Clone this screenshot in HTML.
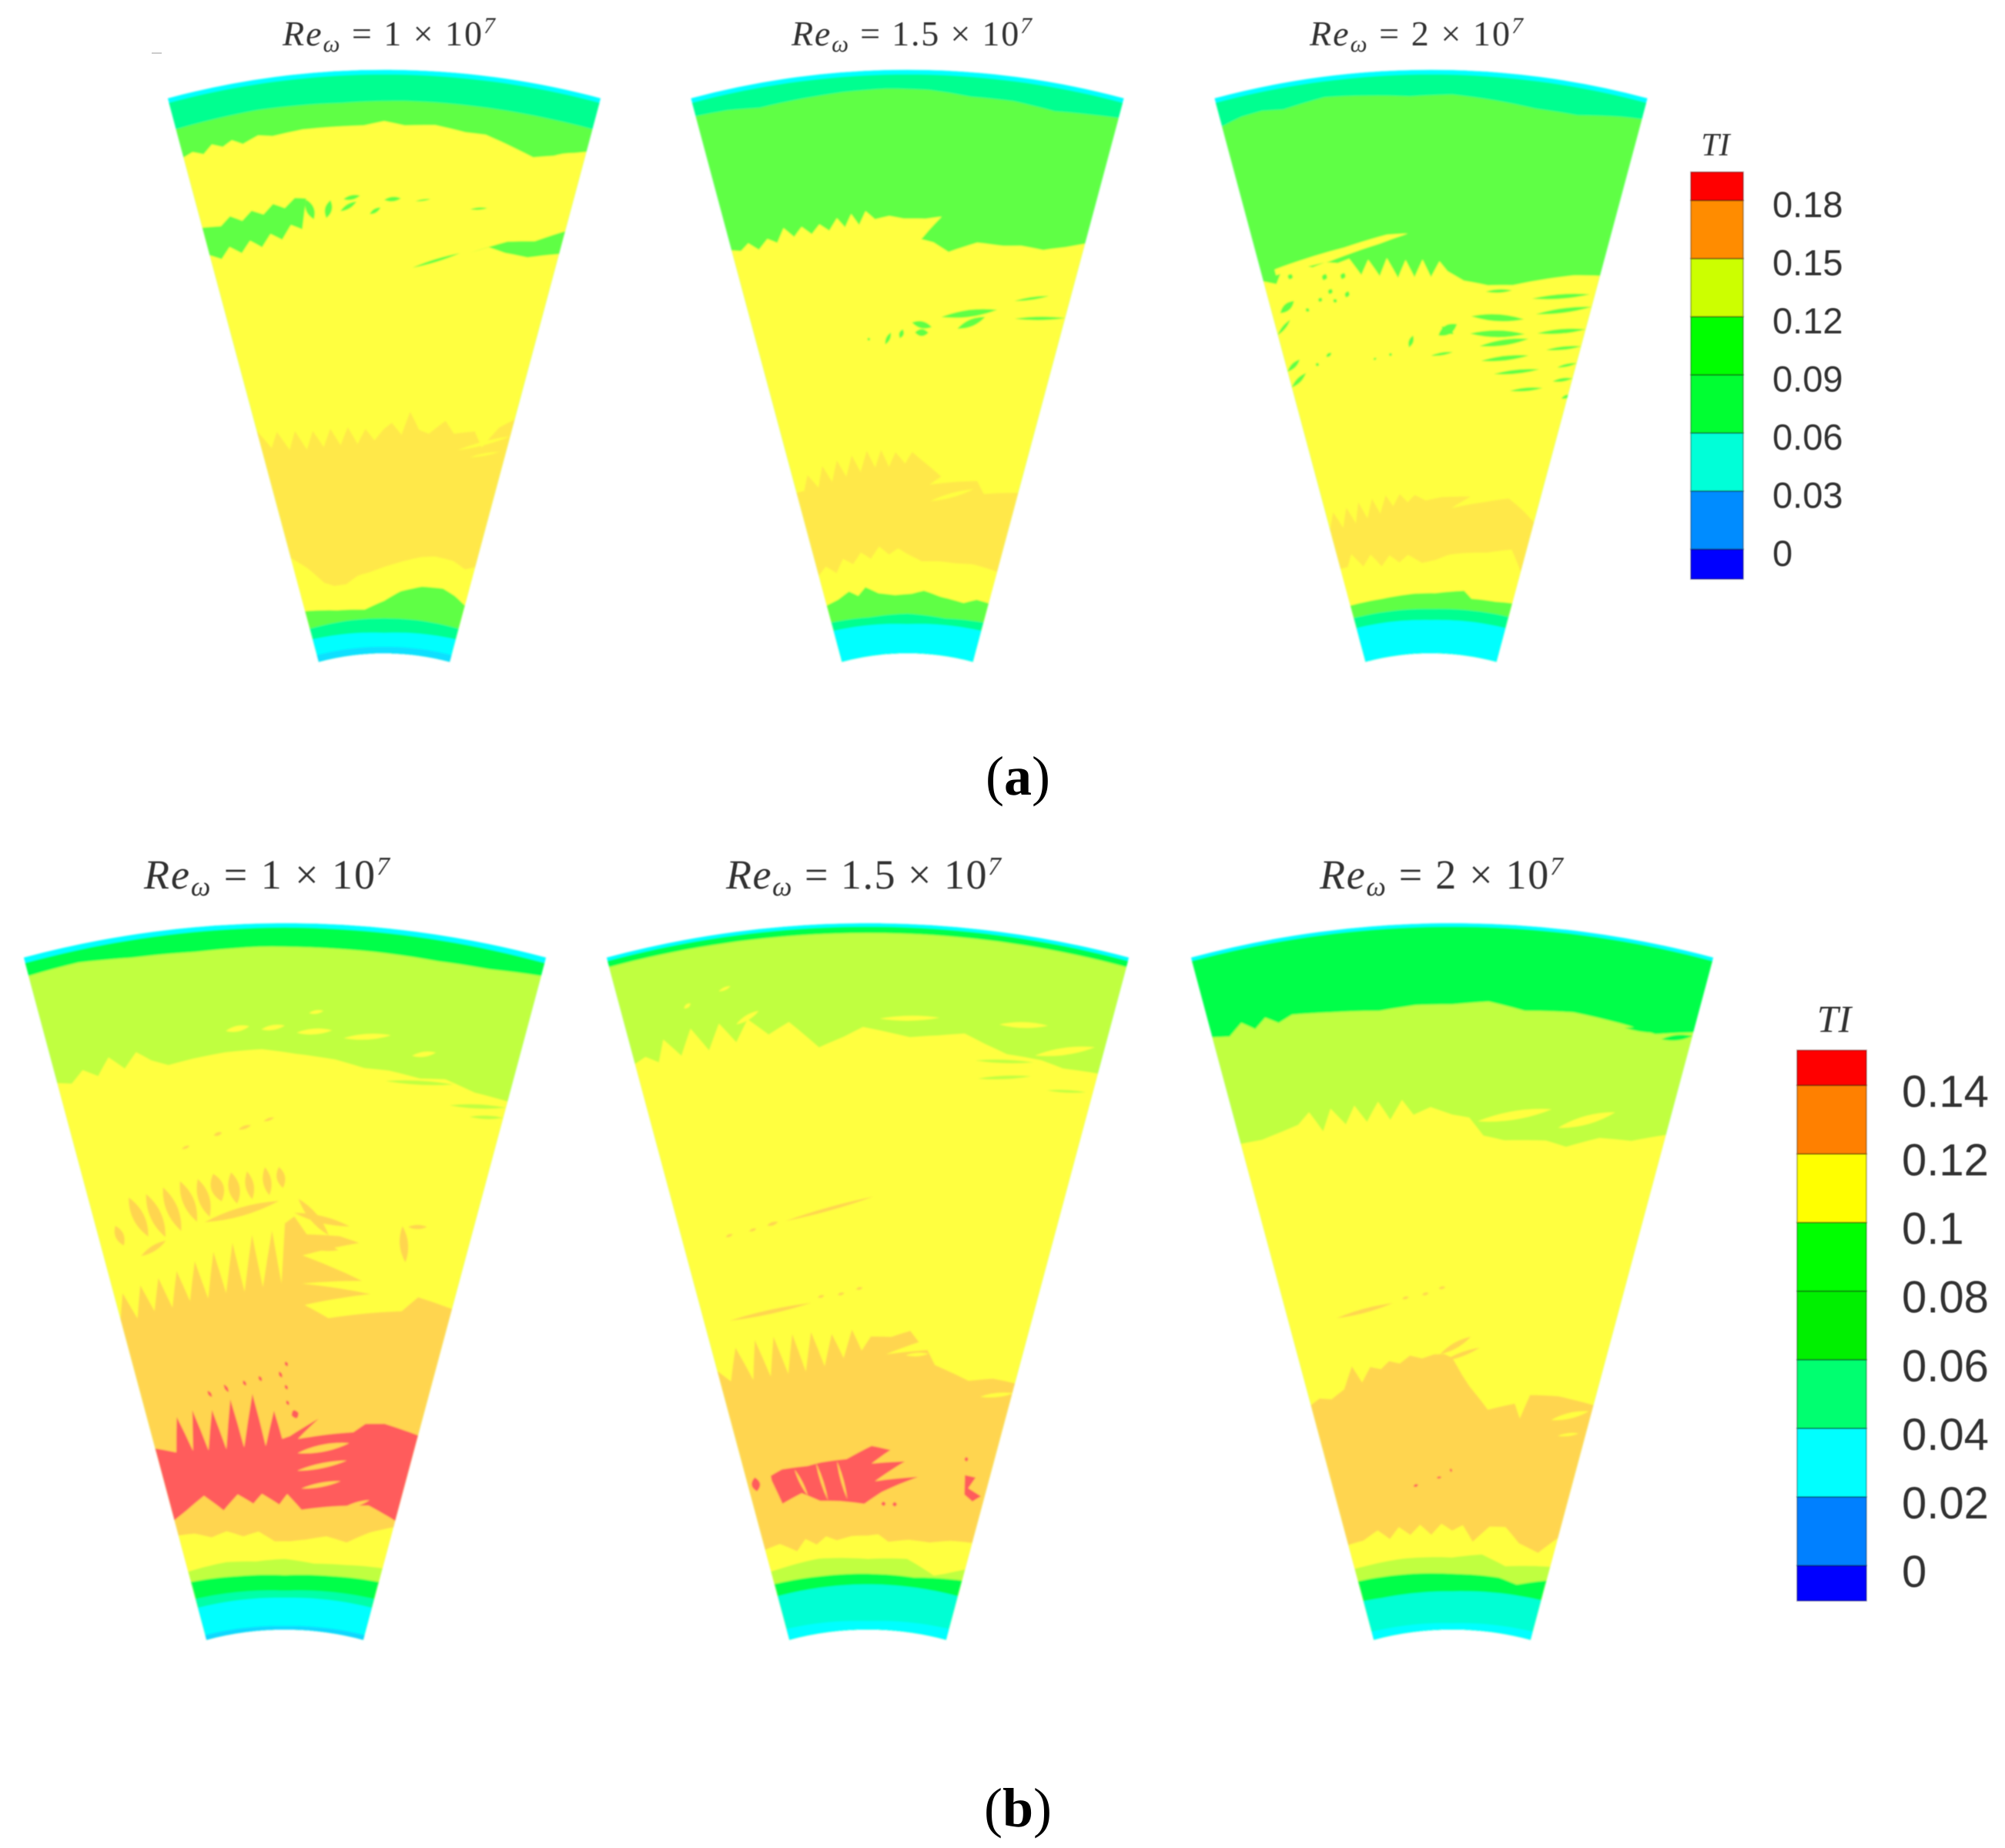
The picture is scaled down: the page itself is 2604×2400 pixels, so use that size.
<!DOCTYPE html>
<html lang="en">
<head>
<meta charset="utf-8">
<title>Turbulence intensity contours</title>
<style>
html,body{margin:0;padding:0;background:#fff}
body{width:2604px;height:2400px;overflow:hidden}
svg{display:block}
.t{font-family:"Liberation Serif",serif;fill:#333}
.l{font-family:"Liberation Sans",sans-serif;fill:#333}
</style>
</head>
<body>
<svg id="chart" xmlns="http://www.w3.org/2000/svg" width="2604" height="2400" viewBox="0 0 2604 2400">
<defs>
<filter id="soft" x="-5%" y="-5%" width="110%" height="110%"><feGaussianBlur stdDeviation="1.1"/></filter>
<filter id="softText" x="-5%" y="-20%" width="110%" height="140%"><feGaussianBlur stdDeviation="0.6"/></filter>
</defs>
<rect x="197" y="68" width="13" height="2" fill="#ccc"/>
<g filter="url(#softText)">
<text class="t" x="367" y="59" font-size="46" textLength="276"><tspan font-style="italic">Re</tspan><tspan font-style="italic" font-size="31" dy="8">ω</tspan><tspan dy="-8"> = 1 × 10</tspan><tspan font-style="italic" font-size="30" dy="-16">7</tspan></text>
<text class="t" x="1028" y="59" font-size="46" textLength="312"><tspan font-style="italic">Re</tspan><tspan font-style="italic" font-size="31" dy="8">ω</tspan><tspan dy="-8"> = 1.5 × 10</tspan><tspan font-style="italic" font-size="30" dy="-16">7</tspan></text>
<text class="t" x="1701" y="59" font-size="46" textLength="277"><tspan font-style="italic">Re</tspan><tspan font-style="italic" font-size="31" dy="8">ω</tspan><tspan dy="-8"> = 2 × 10</tspan><tspan font-style="italic" font-size="30" dy="-16">7</tspan></text>
<text class="t" x="187" y="1154" font-size="54" textLength="319"><tspan font-style="italic">Re</tspan><tspan font-style="italic" font-size="36" dy="9">ω</tspan><tspan dy="-9"> = 1 × 10</tspan><tspan font-style="italic" font-size="34" dy="-18">7</tspan></text>
<text class="t" x="943" y="1154" font-size="54" textLength="357"><tspan font-style="italic">Re</tspan><tspan font-style="italic" font-size="36" dy="9">ω</tspan><tspan dy="-9"> = 1.5 × 10</tspan><tspan font-style="italic" font-size="34" dy="-18">7</tspan></text>
<text class="t" x="1714" y="1154" font-size="54" textLength="316"><tspan font-style="italic">Re</tspan><tspan font-style="italic" font-size="36" dy="9">ω</tspan><tspan dy="-9"> = 2 × 10</tspan><tspan font-style="italic" font-size="34" dy="-18">7</tspan></text>
</g>
<text x="1322" y="1032" text-anchor="middle" font-family="Liberation Serif" font-size="72" fill="#000">(<tspan font-weight="bold">a</tspan>)</text>
<text x="1322" y="2372" text-anchor="middle" font-family="Liberation Serif" font-size="72" fill="#000">(<tspan font-weight="bold">b</tspan>)</text>
<g id="plots"></g>
<g id="legends"></g>
</svg>
<script>
// Contour data: every boundary is a list of (pitch u from -1 to 1, span s from hub 0 to tip 1) pairs.
const a1Ti=[.045,.075,.105,.135,.16,.135,.105,.075,.045,.02];
const a1Bounds=[
[-1,.992,1,.992],
[-1,.945,-.6,.948,-.2,.945,.1,.947,.5,.946,.8,.945,1,.945],
[-1,.895,-.95,.90,-.9,.892,-.85,.905,-.8,.897,-.75,.905,-.7,.895,-.62,.905,-.55,.90,-.4,.905,-.25,.905,-.1,.905,0,.912,.1,.905,.25,.908,.4,.90,.5,.90,.65,.885,.75,.875,.85,.885,1,.905],
[-1,.41,-.92,.375,-.85,.40,-.78,.365,-.71,.395,-.64,.36,-.57,.39,-.5,.36,-.43,.39,-.36,.36,-.29,.39,-.22,.36,-.15,.385,-.08,.365,0,.385,.06,.395,.14,.375,.2,.415,.28,.385,.36,.38,.48,.405,.56,.385,.72,.395,.8,.37,.9,.41,1,.43],
[-1,.184,-.85,.16,-.7,.13,-.59,.122,-.45,.122,-.3,.135,-.15,.14,0,.148,.2,.158,.4,.168,.55,.172,.75,.17,.9,.16,1,.168],
[-1,.09,-.6,.08,-.25,.076,0,.09,.2,.107,.45,.118,.7,.12,.85,.112,1,.10],
[-1,.059,-.5,.06,0,.06,.5,.06,1,.059],
[-1,.04,0,.035,1,.04],
[-1,.012,0,.011,1,.012]
];
const a1Patches=[
[.105,[-1.03,.772,-.9,.765,-.84,.778,-.78,.766,-.72,.78,-.66,.77,-.6,.785,-.54,.775,-.48,.79,-.42,.787,-.46,.735,-.52,.745,-.58,.722,-.64,.735,-.7,.715,-.76,.73,-.82,.712,-.88,.727,-.94,.71,-1.03,.727]],
[.105,[1.03,.77,.85,.735,.7,.725,.5,.696,.6,.71,.7,.705,.83,.705,1.03,.727]]
];
const a1Streaks=[
[.105,-.39,.75,-.42,.785,.014],[.105,-.32,.75,-.29,.78,.012],
[.105,-.22,.78,-.13,.785,.008],[.105,-.24,.76,-.15,.775,.008],
[.105,-.08,.753,-.02,.764,.007],[.105,0,.777,.09,.78,.008],
[.105,.17,.776,.25,.781,.003],[.105,.47,.77,.56,.776,.004],
[.105,.17,.662,.44,.693,.005],
[.135,.85,.885,.98,.9,.005],
[.135,.61,.358,1,.40,.006],[.135,.72,.35,.95,.37,.004]
];

const a2Ti=[.045,.075,.105,.135,.16,.135,.105,.075,.045];
const a2Bounds=[
[-1,.992,1,.992],
[-1,.968,-.85,.965,-.7,.958,-.5,.962,-.3,.966,-.1,.968,.1,.966,.3,.958,.5,.958,.7,.952,.85,.958,1,.965],
[-1,.73,-.95,.725,-.9,.735,-.85,.72,-.79,.735,-.74,.725,-.69,.748,-.64,.73,-.59,.745,-.54,.73,-.49,.745,-.44,.732,-.39,.752,-.35,.735,-.31,.757,-.27,.737,-.23,.76,-.18,.745,-.1,.75,-.02,.745,.1,.745,.19,.75,.12,.725,.08,.71,.15,.705,.24,.69,.32,.70,.4,.71,.55,.71,.65,.715,.78,.715,.9,.728,1,.742],
[-1,.30,-.93,.30,-.87,.325,-.8,.30,-.73,.335,-.67,.305,-.6,.34,-.54,.31,-.47,.345,-.41,.315,-.34,.35,-.28,.32,-.22,.35,-.16,.32,-.1,.345,-.02,.325,.04,.345,.1,.335,.3,.305,.2,.29,.62,.305,.7,.285,1,.30],
[-1,.153,-.9,.165,-.8,.15,-.7,.172,-.6,.16,-.5,.178,-.4,.165,-.3,.185,-.2,.17,-.1,.18,0,.17,.16,.158,.35,.16,.55,.16,.72,.163,1,.16],
[-1,.10,-.85,.105,-.7,.115,-.6,.105,-.5,.118,-.35,.105,-.15,.10,.05,.102,.2,.108,.4,.10,.7,.095,.85,.105,1,.104],
[-1,.07,-.5,.066,0,.068,.5,.064,1,.07],
[-1,.055,0,.05,1,.055]
];
const a2Patches=[];
const a2Streaks=[
[.135,.22,.262,.6,.29,.007],
[.105,.22,.578,.57,.60,.012],[.105,.33,.56,.5,.585,.012],[.105,.03,.567,.16,.56,.012],[.105,.05,.55,.14,.55,.012],
[.105,.67,.62,.87,.64,.005],[.105,.69,.59,1,.61,.006],
[.105,-.15,.53,-.11,.55,.007],[.105,-.05,.54,-.03,.555,.008],[.105,-.27,.54,-.25,.541,.005]
];

const a3Ti=[.045,.075,.105,.135,.16,.135,.105,.075,.045];
const a3Bounds=[
[-1,.992,1,.992],
[-1,.95,-.9,.958,-.8,.96,-.7,.955,-.5,.965,-.3,.96,-.1,.955,.1,.958,.3,.952,.5,.945,.7,.945,.9,.958,1,.963],
[-1,.675,-.93,.665,-.87,.69,-.78,.69,-.7,.68,-.62,.685,-.55,.68,-.48,.685,-.42,.655,-.37,.68,-.31,.65,-.26,.68,-.2,.645,-.15,.675,-.1,.645,-.05,.675,0,.645,.05,.672,.1,.655,.2,.64,.35,.635,.5,.64,.7,.66,.85,.675,1,.685],
[-1,.235,-.93,.262,-.87,.232,-.8,.265,-.74,.235,-.68,.27,-.62,.24,-.55,.272,-.49,.245,-.42,.275,-.36,.255,-.29,.275,-.22,.26,-.15,.272,-.05,.262,.1,.268,.25,.27,.37,.272,.2,.25,.5,.265,.72,.278,.85,.265,1,.248],
[-1,.165,-.92,.165,-.85,.185,-.75,.16,-.65,.178,-.55,.155,-.45,.172,-.35,.158,-.25,.17,-.1,.155,.05,.16,.2,.17,.38,.175,.6,.18,.85,.193,1,.16],
[-1,.10,-.6,.10,-.2,.103,.05,.103,.4,.11,.5,.098,.8,.10,1,.104],
[-1,.078,0,.076,1,.08],
[-1,.06,0,.057,1,.06]
];
const a3Patches=[
[.135,[-.92,.69,-.5,.705,-.25,.72,-.13,.72,-.3,.705,-.6,.685,-.92,.68]]
];
const a3Streaks=[
[.105,.34,.624,.5,.631,.006],[.105,.63,.622,.97,.65,.008],[.105,.67,.597,1,.63,.008],
[.105,.26,.58,.6,.585,.012],[.105,.26,.55,.62,.56,.012],[.105,.33,.53,.65,.553,.01],
[.105,.35,.505,.67,.525,.008],[.105,.45,.485,.76,.505,.007],[.105,.58,.46,.81,.475,.006],
[.105,.7,.565,1,.59,.008],[.105,.78,.54,1,.56,.006],[.105,.88,.515,1,.53,.005],
[.105,.87,.49,1,.503,.006],[.105,.96,.465,1.02,.475,.006],
[.105,.05,.545,.17,.565,.016],[.105,.07,.56,.15,.548,.01],[.105,0,.51,.15,.517,.005],
[.105,-.15,.525,-.12,.545,.008],[.105,-.29,.513,-.27,.516,.005],[.105,-.4,.508,-.38,.511,.004],
[.105,-.95,.615,-.85,.63,.012],[.105,-1,.58,-.9,.6,.006],[.105,-1,.515,-.9,.53,.008],[.105,-1,.487,-.88,.505,.008],
[.105,-.8,.513,-.78,.517,.006],[.105,-.72,.525,-.68,.53,.006],
[.105,-.85,.668,-.83,.676,.009],[.105,-.65,.655,-.63,.665,.009],[.105,-.54,.652,-.52,.662,.009],
[.105,-.63,.63,-.61,.638,.008],[.105,-.53,.62,-.51,.63,.008],[.105,-.79,.608,-.77,.612,.007],
[.105,-.7,.62,-.68,.626,.007],[.105,-.9,.625,-.88,.629,.006],[.105,-.61,.615,-.59,.619,.007]
];

const b1Ti=[.03,.07,.09,.11,.13,.11,.09,.07,.055,.035,.005];
const b1Bounds=[
[-1,.992,0,.994,1,.992],
[-1,.973,-.8,.975,-.6,.968,-.35,.965,-.1,.967,.1,.966,.35,.965,.6,.963,.8,.965,1,.973],
[-1,.816,-.94,.81,-.88,.825,-.82,.812,-.76,.835,-.7,.815,-.64,.835,-.58,.82,-.51,.81,-.4,.815,-.26,.82,-.1,.822,.05,.815,.22,.809,.35,.80,.46,.80,.6,.795,.71,.80,.85,.79,1,.789],
[-1,.47,-.95,.505,-.9,.465,-.84,.51,-.79,.47,-.73,.515,-.68,.47,-.62,.52,-.57,.475,-.51,.53,-.46,.475,-.4,.54,-.35,.48,-.29,.55,-.24,.48,-.18,.56,-.13,.485,-.07,.565,-.02,.49,0,.575,.05,.585,.12,.56,.3,.56,.41,.553,.1,.53,.45,.50,.1,.49,.51,.483,.12,.46,.27,.443,.5,.455,.71,.466,.79,.49,1,.485],
[-1,.153,-.85,.15,-.7,.14,-.55,.145,-.4,.135,-.25,.14,-.1,.125,.05,.125,.2,.128,.4,.135,.6,.13,.8,.15,1,.165],
[-1,.10,-.6,.102,-.3,.098,0,.10,.3,.095,.6,.098,1,.105],
[-1,.085,-.5,.08,0,.077,.5,.08,1,.085],
[-1,.06,0,.055,1,.06],
[-1,.047,0,.045,1,.047],
[-1,.007,0,.005,1,.007]
];
const b1Patches=[
[.15,[-1.03,.283,-.85,.268,-.79,.317,-.72,.265,-.67,.322,-.6,.262,-.53,.318,-.46,.26,-.39,.33,-.32,.26,-.23,.335,-.15,.26,-.08,.31,-.02,.27,.04,.274,.25,.30,.1,.27,.52,.286,.6,.30,.74,.305,1.03,.299,1.03,.173,.74,.187,.15,.17,.02,.192,-.05,.177,-.2,.193,-.28,.18,-.41,.195,-.55,.175,-.7,.20,-.87,.185,-1.03,.173]]
];
const b1Streaks=[
[.13,.1,.25,.5,.27,.01],[.13,.1,.225,.5,.245,.007],[.13,.14,.2,.47,.215,.006],[.13,.5,.175,.74,.195,.006],
[.15,-.54,.34,-.52,.342,.01],[.15,-.42,.345,-.4,.347,.012],[.15,-.29,.35,-.27,.352,.008],[.15,-.18,.355,-.16,.357,.008],[.15,-.04,.36,-.02,.362,.009],[.15,0,.375,.02,.377,.007],[.15,0,.342,.02,.344,.007],[.15,.01,.32,.03,.322,.007],[.15,.05,.303,.1,.307,.012],
[.13,-.9,.6,-.88,.57,.012],[.13,-.8,.635,-.74,.575,.016],[.13,-.71,.635,-.65,.57,.016],[.13,-.62,.64,-.56,.575,.016],[.13,-.53,.645,-.47,.585,.016],[.13,-.44,.645,-.4,.59,.016],[.13,-.36,.65,-.33,.61,.018],[.13,-.27,.65,-.25,.605,.016],[.13,-.19,.65,-.17,.61,.012],[.13,-.1,.655,-.08,.615,.012],[.13,-.03,.655,-.01,.625,.012],
[.13,-.43,.583,-.03,.607,.012],[.13,-.8,.55,-.65,.565,.008],
[.13,-.34,.704,-.3,.707,.005],[.13,-.22,.71,-.16,.715,.005],[.13,-.1,.72,-.05,.725,.004],[.13,-.5,.69,-.46,.693,.004],
[.13,.07,.61,.24,.56,.012],[.13,.05,.59,.35,.575,.01],[.13,.05,.55,.3,.54,.012],[.13,.63,.585,.68,.535,.012],[.13,.66,.585,.76,.59,.006],
[.11,.1,.873,.16,.877,.005],[.11,-.25,.85,-.15,.855,.008],[.11,-.1,.85,0,.855,.007],[.11,.05,.845,.2,.85,.008],[.11,.25,.84,.45,.85,.008],[.11,.55,.825,.65,.835,.007],
[.09,.45,.785,.75,.795,.006],[.09,.75,.765,1,.78,.006],[.09,.85,.755,1,.765,.005]
];

const b2Ti=[.03,.07,.09,.11,.13,.11,.09,.07,.045,.03];
const b2Bounds=[
[-1,.995,1,.995],
[-1,.986,0,.986,1,.986],
[-1,.844,-.95,.85,-.9,.838,-.86,.868,-.8,.84,-.74,.875,-.68,.84,-.62,.875,-.56,.845,-.5,.875,-.42,.85,-.33,.865,-.21,.826,-.1,.84,-.02,.853,.1,.845,.18,.84,.3,.845,.41,.851,.5,.84,.6,.83,.75,.83,.85,.825,1,.83],
[-1,.394,-.93,.375,-.85,.42,-.78,.37,-.72,.425,-.66,.37,-.6,.425,-.54,.37,-.48,.425,-.42,.37,-.36,.425,-.29,.375,-.23,.42,-.16,.385,-.1,.425,-.04,.395,.02,.415,.15,.415,.27,.425,.33,.41,.12,.39,.39,.40,.45,.38,.69,.365,.85,.375,1,.376],
[-1,.132,-.85,.135,-.7,.12,-.6,.135,-.5,.125,-.4,.135,-.3,.128,-.15,.133,0,.133,.1,.135,.2,.125,.4,.13,.6,.13,.8,.138,1,.142],
[-1,.10,-.5,.105,0,.10,.4,.103,.7,.085,.8,.09,1,.103],
[-1,.082,-.5,.08,0,.079,.5,.078,1,.087],
[-1,.064,0,.064,1,.064],
[-1,.016,0,.012,1,.016]
];
const b2Patches=[
[.15,[-.8,.232,-.7,.238,-.49,.237,-.38,.24,-.17,.242,.03,.26,.18,.255,.03,.235,.3,.24,.06,.21,.42,.22,.12,.195,-.03,.178,-.24,.183,-.42,.186,-.57,.20,-.75,.19,-.8,.225]],
[.15,[.8,.233,.89,.233,.85,.216,.97,.209,.91,.199,.83,.206]]
];
const b2Streaks=[
[.13,-.6,.235,-.52,.195,.004],[.13,-.42,.24,-.35,.185,.004],[.13,-.25,.24,-.18,.185,.004],
[.15,-.94,.215,-.93,.235,.012],[.15,.77,.255,.8,.256,.006],[.15,.12,.178,.16,.179,.006],[.15,.22,.178,.26,.179,.006],
[.13,-.44,.585,.03,.613,.005],[.13,-.77,.576,-.73,.578,.004],[.13,-.64,.578,-.6,.58,.004],[.13,-.54,.582,-.48,.585,.005],
[.13,-.85,.459,-.34,.466,.006],[.13,-.3,.473,-.26,.475,.004],[.13,-.18,.475,-.14,.477,.004],[.13,-.07,.482,-.03,.484,.004],
[.11,.79,.346,1.01,.362,.006],[.11,.25,.39,.4,.395,.005],
[.11,-.75,.905,-.72,.91,.005],[.11,-.6,.92,-.55,.925,.004],[.11,-.55,.87,-.45,.885,.007],[.11,.05,.865,.3,.87,.007],[.11,.55,.87,.75,.88,.008],[.11,.72,.835,.96,.865,.01],[.11,-.1,.84,0,.845,.006],
[.09,.47,.815,.72,.825,.005],[.09,.49,.79,.72,.805,.005],[.09,.8,.79,.97,.8,.004]
];

const b3Ti=[.03,.07,.09,.11,.13,.11,.09,.07,.045,.03];
const b3Bounds=[
[-1,.995,1,.995],
[-1,.883,-.93,.878,-.87,.893,-.82,.88,-.77,.893,-.72,.882,-.66,.89,-.5,.885,-.3,.88,-.15,.885,0,.885,.15,.89,.3,.88,.5,.885,.7,.88,.85,.875,1,.89],
[-1,.727,-.9,.725,-.8,.73,-.72,.735,-.66,.75,-.61,.72,-.56,.75,-.5,.725,-.45,.75,-.4,.725,-.34,.752,-.29,.725,-.23,.752,-.18,.73,-.1,.74,0,.729,.08,.725,.15,.70,.25,.695,.45,.70,.55,.695,.7,.715,.85,.72,1,.74],
[-1,.344,-.93,.35,-.85,.345,-.75,.355,-.67,.385,-.62,.36,-.55,.38,-.48,.375,-.42,.385,-.35,.38,-.28,.39,-.2,.385,-.12,.39,-.05,.39,0,.385,.07,.36,.12,.345,.26,.313,.45,.325,.5,.305,.55,.34,.75,.345,1,.344],
[-1,.139,-.85,.14,-.7,.15,-.6,.135,-.5,.15,-.4,.137,-.3,.15,-.2,.135,-.1,.15,0,.14,.1,.148,.2,.125,.35,.148,.5,.15,.65,.13,.85,.122,1,.149],
[-1,.104,-.5,.105,0,.102,.3,.108,.55,.095,1,.107],
[-1,.086,-.4,.082,0,.079,.5,.078,.7,.072,1,.087],
[-1,.057,-.8,.055,0,.054,1,.058],
[-1,.012,0,.009,1,.012]
];
const b3Patches=[];
const b3Streaks=[
[.07,.88,.87,1,.885,.008],[.07,.72,.875,.88,.88,.006],
[.11,.12,.72,.46,.745,.012],[.11,.5,.72,.75,.755,.012],
[.13,-.08,.39,.12,.415,.008],[.13,-.06,.38,.18,.40,.006],
[.13,-.71,.456,-.36,.466,.006],[.13,-.3,.471,-.26,.473,.004],[.13,-.18,.475,-.14,.477,.004],[.13,-.08,.483,-.04,.485,.004],
[.11,.73,.31,.98,.334,.008],[.11,.8,.29,.95,.3,.004],
[.15,-.02,.225,0,.226,.005],[.14,-.33,.205,-.29,.207,.004],[.14,-.13,.215,-.09,.216,.003]
];

const legendATicks=[.18,.15,.12,.09,.06,.03,0];
const legendALabels=['0.18','0.15','0.12','0.09','0.06','0.03','0'];
const legendBTicks=[.14,.12,.1,.08,.06,.04,.02,0];
const legendBLabels=['0.14','0.12','0.1','0.08','0.06','0.04','0.02','0'];
const legendAMin=-.0154, legendAMax=.1946;
const legendBMin=-.0103, legendBMax=.1502;

// Styling and colour scales
const legendAFills=['#0000ff','#008cff','#00ffd8','#00ff30','#00ff00','#ccff00','#ff8c00','#ff0000'];
const legendBFills=['#0000ff','#0080ff','#00ffff','#00ff70','#00f000','#00ff00','#ffff00','#ff8000','#ff0000'];
function scaleA(t){
  if(t<.03)return '#10e0ff';
  if(t<.06)return '#00ffff';
  if(t<.09)return '#00ff90';
  if(t<.12)return '#5fff45';
  if(t<.15)return '#ffff40';
  return '#ffe84a';
}
function scaleB(t){
  if(t<.01)return '#10d8ff';
  if(t<.04)return '#00ffff';
  if(t<.05)return '#00ffd4';
  if(t<.06)return '#00ffa8';
  if(t<.08)return '#00ff48';
  if(t<.10)return '#c0ff40';
  if(t<.12)return '#ffff40';
  if(t<.14)return '#ffd54f';
  return '#ff5c5c';
}

const NS='http://www.w3.org/2000/svg';
const HALF=15*Math.PI/180;
const fanA={apexY:1177,rIn:328.6,rOut:1086.4};
const fanB={apexY:2509.5,rIn:393.2,rOut:1310.6};

function make(tag,parent){
  const el=document.createElementNS(NS,tag);
  parent.appendChild(el);
  return el;
}
function xAxis(p,u,s){
  const r=p.fan.rIn+s*(p.fan.rOut-p.fan.rIn);
  return p.cx+r*Math.sin(u*HALF);
}
function yAxis(p,u,s){
  const r=p.fan.rIn+s*(p.fan.rOut-p.fan.rIn);
  return p.fan.apexY-r*Math.cos(u*HALF);
}
function curve(p,pairs){
  const out=[];
  for(let i=0;i<pairs.length;i+=2){
    const u=pairs[i],s=pairs[i+1];
    if(i>0){
      const pu=pairs[i-2],ps=pairs[i-1];
      const n=Math.ceil(Math.abs(u-pu)/.05);
      for(let k=1;k<n;k++){
        const f=k/n,uu=pu+(u-pu)*f,ss=ps+(s-ps)*f;
        out.push(xAxis(p,uu,ss).toFixed(1)+' '+yAxis(p,uu,ss).toFixed(1));
      }
    }
    out.push(xAxis(p,u,s).toFixed(1)+' '+yAxis(p,u,s).toFixed(1));
  }
  return out;
}
function fanPath(p){
  const a=[xAxis(p,-1,0),yAxis(p,-1,0)],b=[xAxis(p,-1,1),yAxis(p,-1,1)],c=[xAxis(p,1,1),yAxis(p,1,1)],d=[xAxis(p,1,0),yAxis(p,1,0)];
  return 'M'+a+' L'+b+' A'+p.fan.rOut+' '+p.fan.rOut+' 0 0 1 '+c+' L'+d+' A'+p.fan.rIn+' '+p.fan.rIn+' 0 0 0 '+a+' Z';
}
function drawPanel(p,idx){
  const root=document.getElementById('plots');
  const clip=make('clipPath',document.querySelector('defs'));
  clip.setAttribute('id','clip-'+p.id);
  const cp=make('path',clip);
  cp.setAttribute('d',fanPath(p));
  const soft=make('g',root);
  soft.setAttribute('filter','url(#soft)');
  
  
  const g=make('g',soft);
  g.setAttribute('clip-path','url(#clip-'+p.id+')');
  const base=make('path',g);
  base.setAttribute('d',fanPath(p));
  base.setAttribute('fill',p.scale(p.ti[0]));
  
  
  p.bounds.forEach(function(b,i){
    const first=b[1],last=b[b.length-1];
    const pts=[-1.05,first].concat(b,[1.05,last]);
    const line=curve(p,pts);
    const tail=[[1.05,-.08],[-1.05,-.08]].map(function(q){return xAxis(p,q[0],q[1]).toFixed(1)+' '+yAxis(p,q[0],q[1]).toFixed(1);});
    const band=make('path',g);
    band.setAttribute('d','M'+line.concat(tail).join(' L')+' Z');
    band.setAttribute('fill',p.scale(p.ti[i+1]));
    
    
  });
  p.patches.forEach(function(item){
    const patch=make('path',g);
    patch.setAttribute('d','M'+curve(p,item[1].concat(item[1].slice(0,2))).join(' L')+' Z');
    patch.setAttribute('fill',p.scale(item[0]));
    
    
  });
  p.streaks.forEach(function(t){
    const x1=xAxis(p,t[1],t[2]),y1=yAxis(p,t[1],t[2]),x2=xAxis(p,t[3],t[4]),y2=yAxis(p,t[3],t[4]);
    const len=Math.hypot(x2-x1,y2-y1)||1;
    const w=t[5]*(p.fan.rOut-p.fan.rIn);
    const nx=-(y2-y1)/len*w,ny=(x2-x1)/len*w,mx=(x1+x2)/2,my=(y1+y2)/2;
    const streak=make('path',g);
    streak.setAttribute('d','M'+x1.toFixed(1)+' '+y1.toFixed(1)+' Q'+(mx+nx).toFixed(1)+' '+(my+ny).toFixed(1)+' '+x2.toFixed(1)+' '+y2.toFixed(1)+' Q'+(mx-nx).toFixed(1)+' '+(my-ny).toFixed(1)+' '+x1.toFixed(1)+' '+y1.toFixed(1)+' Z');
    streak.setAttribute('fill',p.scale(t[0]));
    
    
  });
}
[
 {id:'a1',cx:499,fan:fanA,scale:scaleA,ti:a1Ti,bounds:a1Bounds,patches:a1Patches,streaks:a1Streaks},
 {id:'a2',cx:1178.5,fan:fanA,scale:scaleA,ti:a2Ti,bounds:a2Bounds,patches:a2Patches,streaks:a2Streaks},
 {id:'a3',cx:1858.5,fan:fanA,scale:scaleA,ti:a3Ti,bounds:a3Bounds,patches:a3Patches,streaks:a3Streaks},
 {id:'b1',cx:370,fan:fanB,scale:scaleB,ti:b1Ti,bounds:b1Bounds,patches:b1Patches,streaks:b1Streaks},
 {id:'b2',cx:1127,fan:fanB,scale:scaleB,ti:b2Ti,bounds:b2Bounds,patches:b2Patches,streaks:b2Streaks},
 {id:'b3',cx:1886,fan:fanB,scale:scaleB,ti:b3Ti,bounds:b3Bounds,patches:b3Patches,streaks:b3Streaks}
].forEach(drawPanel);

function drawLegend(cfg){
  const root=document.getElementById('legends');
  const g=make('g',root);
  
  
  g.setAttribute('filter','url(#softText)');
  const y=function(t){return cfg.bottom-(t-cfg.min)/(cfg.max-cfg.min)*(cfg.bottom-cfg.top);};
  const edges=[cfg.min].concat(cfg.ticks.slice().reverse(),[cfg.max]);
  cfg.fills.forEach(function(fill,i){
    const seg=make('rect',g);
    seg.setAttribute('x',cfg.x);
    seg.setAttribute('width',cfg.w);
    seg.setAttribute('y',y(edges[i+1]));
    seg.setAttribute('height',y(edges[i])-y(edges[i+1]));
    seg.setAttribute('fill',fill);
    seg.setAttribute('stroke','#000');
    seg.setAttribute('stroke-opacity','.3');
    seg.setAttribute('stroke-width','2');
    
    
  });
  cfg.ticks.forEach(function(t,i){
    const label=make('text',g);
    label.setAttribute('class','l');
    label.setAttribute('x',cfg.labelX);
    label.setAttribute('y',y(t)+cfg.labelDy);
    label.setAttribute('font-size',cfg.font);
    label.textContent=cfg.labels[i];
    
    
  });
  const title=make('text',g);
  title.setAttribute('class','t');
  title.setAttribute('x',cfg.titleX);
  title.setAttribute('y',cfg.titleY);
  title.setAttribute('font-size',cfg.titleFont);
  title.setAttribute('font-style','italic');
  title.setAttribute('text-anchor','middle');
  title.textContent='TI';
  
  
}
drawLegend({id:'a',x:2196,w:68,top:223.5,bottom:752,min:legendAMin,max:legendAMax,ticks:legendATicks,labels:legendALabels,fills:legendAFills,labelX:2302,labelDy:22,font:47,titleX:2228,titleY:202,titleFont:42});
drawLegend({id:'b',x:2334,w:90,top:1364,bottom:2079,min:legendBMin,max:legendBMax,ticks:legendBTicks,labels:legendBLabels,fills:legendBFills,labelX:2470,labelDy:28,font:58,titleX:2382,titleY:1340,titleFont:50});
</script>
</body>
</html>
